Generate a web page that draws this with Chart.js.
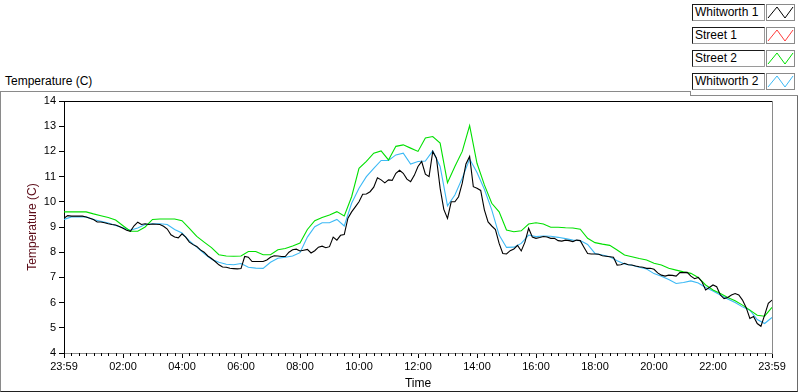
<!DOCTYPE html>
<html>
<head>
<meta charset="utf-8">
<title>Temperature (C)</title>
<script src="https://cdn.jsdelivr.net/npm/chart.js@4.4.1/dist/chart.umd.min.js"></script>
<style>
  html, body { margin: 0; padding: 0; background: #fff; }
  body { width: 800px; height: 392px; position: relative; overflow: hidden; font-family: 'Liberation Sans', Arial, sans-serif; }
  #chart { position: absolute; left: 0; top: 0; }
  .frame { position: absolute; left: 0; top: 91px; width: 796px; height: 299px;
           border-left: 1px solid #8a8a8a; border-top: 1px solid #8a8a8a;
           border-right: 1px solid #6a6a6a; border-bottom: 1px solid #202020; }
  .step { position: absolute; left: 690px; top: 91px; width: 1px; height: 5px; background: #8a8a8a; }
  .plot-title { position: absolute; left: 5px; top: 73px; font-size: 12px; line-height: 16px; color: #000; }
  .legend { position: absolute; left: 691px; top: 0; width: 107px; height: 96px; background: #fff;
            border-bottom: 1px solid #8a8a8a; box-sizing: border-box; }
  .legend .row { position: absolute; left: 1px; height: 17px; }
  .legend .name { position: absolute; left: 0; top: 0; width: 69px; height: 15px; background: #fff;
                  border: 1px solid; border-color: #1a1a1a #9a9a9a #9a9a9a #1a1a1a;
                  font-size: 12px; line-height: 15px; padding-left: 2px; white-space: nowrap; color: #000; }
  .legend .icon { position: absolute; left: 74px; top: 0; width: 27px; height: 15px; background: #fff;
                  border: 1px solid #8a8a8a; }
  .legend svg { display: block; }
</style>
</head>
<body>
<div class="frame"></div>
<div class="plot-title">Temperature (C)</div>
<canvas id="chart" width="800" height="392"></canvas>
<div class="legend" id="legend"></div>
<div class="step"></div>

<script>
// ===== DATA (23:59 -> 23:59, x in minutes) =====
// Whitworth 1 read every 7.5 min (it is noisy), the other sites every 15 min
const blackStep = 7.5;
const stepMinutes = 15;

const tickLabels = ['23:59', '02:00', '04:00', '06:00', '08:00', '10:00', '12:00',
  '14:00', '16:00', '18:00', '20:00', '22:00', '23:59'];

const seriesNames = ['Whitworth 1', 'Street 1', 'Street 2', 'Whitworth 2'];
const seriesColors = ['#000000', '#ff3c3c', '#00e000', '#3cb9f5'];

// one row per hour
const whitworth1 = [
  9.35, 9.45, 9.43, 9.43, 9.43, 9.43, 9.40, 9.35,
  9.30, 9.20, 9.20, 9.17, 9.13, 9.10, 9.08, 9.02,
  8.95, 8.87, 8.83, 9.05, 9.19, 9.10, 9.13, 9.10,
  9.12, 9.11, 9.10, 9.03, 8.92, 8.69, 8.60, 8.57,
  8.73, 8.60, 8.40, 8.30, 8.23, 8.09, 8.00, 7.85,
  7.75, 7.63, 7.50, 7.41, 7.40, 7.36, 7.35, 7.34,
  7.35, 7.83, 7.80, 7.63, 7.63, 7.63, 7.63, 7.69,
  7.80, 7.86, 7.85, 7.83, 7.83, 8.00, 8.10, 8.12,
  8.05, 8.08, 8.11, 7.97, 8.06, 8.20, 8.24, 8.18,
  8.22, 8.60, 8.48, 8.67, 8.70, 9.35, 9.60, 9.80,
  10.00, 10.30, 10.31, 10.40, 10.58, 10.95, 10.87, 10.75,
  10.87, 10.85, 11.13, 11.25, 11.13, 10.90, 10.80, 11.05,
  11.40, 11.60, 11.10, 11.00, 12.00, 11.73, 10.54, 9.70,
  9.34, 10.00, 10.00, 10.20, 10.74, 11.50, 11.80, 10.60,
  10.54, 10.45, 9.68, 9.20, 9.04, 8.90, 8.35, 7.95,
  7.93, 8.06, 8.13, 8.27, 8.05, 8.40, 8.95, 8.60,
  8.55, 8.58, 8.62, 8.60, 8.55, 8.55, 8.46, 8.44,
  8.48, 8.46, 8.42, 8.48, 8.46, 8.20, 7.95, 7.93,
  7.93, 7.92, 7.86, 7.84, 7.82, 7.80, 7.49, 7.50,
  7.56, 7.50, 7.49, 7.45, 7.42, 7.40, 7.36, 7.36,
  7.32, 7.18, 7.09, 7.05, 7.09, 7.08, 7.05, 7.19,
  7.19, 7.20, 7.05, 6.95, 7.00, 6.83, 6.50, 6.60,
  6.70, 6.63, 6.30, 6.16, 6.20, 6.30, 6.36, 6.30,
  6.10, 5.80, 5.37, 5.45, 5.17, 5.06, 5.50, 5.97,
  6.10
];

const street1 = [];

const street2 = [
  9.60, 9.60, 9.60, 9.60, 9.52, 9.45, 9.38, 9.28, 9.05, 8.83, 8.83, 9.00,
  9.30, 9.32, 9.32, 9.32, 9.25, 8.95, 8.63, 8.40, 8.18, 7.90, 7.85, 7.84,
  7.85, 8.03, 8.03, 7.90, 7.90, 8.10, 8.15, 8.25, 8.36, 8.90, 9.25, 9.38,
  9.48, 9.61, 9.44, 10.20, 11.33, 11.60, 11.93, 12.02, 11.66, 12.20, 12.26, 12.13,
  12.00, 12.53, 12.59, 12.33, 10.76, 11.40, 12.00, 13.02, 11.53, 10.67, 9.94, 9.60,
  8.88, 8.81, 8.85, 9.12, 9.17, 9.12, 8.99, 8.99, 8.97, 8.96, 8.91, 8.55,
  8.38, 8.32, 8.27, 8.09, 7.89, 7.82, 7.75, 7.69, 7.56, 7.49, 7.36, 7.29,
  7.22, 7.16, 7.00, 6.70, 6.50, 6.36, 6.20, 6.07, 5.90, 5.70, 5.50, 5.46,
  5.81
];

const whitworth2 = [
  9.30, 9.40, 9.40, 9.40, 9.30, 9.23, 9.16, 9.06, 8.97, 8.87, 8.96, 9.10,
  9.13, 9.13, 9.10, 8.90, 8.76, 8.45, 8.20, 7.95, 7.72, 7.60, 7.52, 7.50,
  7.55, 7.40, 7.37, 7.36, 7.60, 7.76, 7.80, 7.85, 7.98, 8.60, 9.01, 9.17,
  9.17, 9.30, 9.04, 9.94, 10.54, 11.00, 11.33, 11.64, 11.64, 11.86, 11.93, 11.50,
  11.60, 11.62, 12.02, 11.40, 9.84, 10.27, 10.94, 11.70, 11.16, 10.50, 9.68, 8.68,
  8.19, 8.20, 8.35, 8.68, 8.62, 8.64, 8.63, 8.59, 8.54, 8.48, 8.46, 8.31,
  7.95, 7.89, 7.82, 7.66, 7.53, 7.48, 7.40, 7.33, 7.15, 7.05, 6.92, 6.76,
  6.80, 6.86, 6.78, 6.60, 6.46, 6.30, 6.14, 6.00, 5.83, 5.70, 5.33, 5.17,
  5.41
];

// ===== HELPERS =====
const toPoints = (arr, step) => arr.map((v, i) => ({ x: i * step, y: v }));
const axisFont = { family: "'Liberation Sans', Arial, sans-serif", size: 11 };
const titleFont = { family: "'Liberation Sans', Arial, sans-serif", size: 12 };

// ===== LEGEND (LabVIEW style boxes) =====
function buildLegend() {
  const box = document.getElementById('legend');
  box.innerHTML = seriesNames.map((name, i) => `
    <div class="row" style="top:${4 + i * 23}px">
      <div class="name">${name}</div>
      <div class="icon">
        <svg width="27" height="15"><polyline points="1,13 10,2 18,13 26,2" fill="none" stroke="${seriesColors[i]}" stroke-width="1"/></svg>
      </div>
    </div>`).join('');
}

// ===== PLOT FRAME + MINOR TICKS =====
const frameLines = {
  id: 'frameLines',
  afterDraw(chart) {
    const { ctx, chartArea: a, scales: { x } } = chart;
    ctx.save();
    ctx.lineWidth = 1;

    // minor ticks every 15 min
    ctx.strokeStyle = '#000';
    ctx.beginPath();
    for (let m = 0; m <= 24 * 60; m += stepMinutes) {
      if (m % 120 === 0) continue;
      const px = Math.round(x.getPixelForValue(m)) + 0.5;
      ctx.moveTo(px, a.bottom);
      ctx.lineTo(px, a.bottom + 3);
    }
    ctx.stroke();

    // top (black) and right (gray) borders
    ctx.beginPath();
    ctx.moveTo(a.left, a.top + 0.5);
    ctx.lineTo(a.right, a.top + 0.5);
    ctx.stroke();
    ctx.strokeStyle = '#8a8a8a';
    ctx.beginPath();
    ctx.moveTo(a.right + 0.5, a.top);
    ctx.lineTo(a.right + 0.5, a.bottom);
    ctx.stroke();
    ctx.restore();
  }
};

// ===== CHART =====
function drawChart() {
  const data = [
    toPoints(whitworth1, blackStep),
    toPoints(street1, stepMinutes),
    toPoints(street2, stepMinutes),
    toPoints(whitworth2, stepMinutes)
  ];
  new Chart(document.getElementById('chart'), {
    type: 'line',
    data: {
      datasets: data.map((pts, i) => ({
        label: seriesNames[i],
        data: pts,
        borderColor: seriesColors[i],
        borderWidth: 1.1,
        pointRadius: 0,
        tension: 0,
        fill: false
      }))
    },
    options: {
      responsive: false,
      animation: false,
      layout: { padding: { left: 0, top: 101, right: 28, bottom: 0 } },
      plugins: { legend: { display: false }, tooltip: { enabled: false } },
      scales: {
        x: {
          type: 'linear',
          min: 0,
          max: 24 * 60,
          afterFit: s => { s.height = 39; },
          afterBuildTicks: s => { s.ticks = tickLabels.map((_, i) => ({ value: i * 120 })); },
          ticks: {
            autoSkip: false, maxRotation: 0, padding: 2, color: '#000', font: axisFont,
            callback: v => tickLabels[Math.round(v / 120)]
          },
          grid: { drawOnChartArea: false, drawTicks: true, tickLength: 5, color: '#000' },
          border: { display: true, color: '#8a8a8a' },
          title: { display: true, text: 'Time', color: '#000', font: titleFont, padding: { top: 0, bottom: 1 } }
        },
        y: {
          min: 4,
          max: 14,
          afterFit: s => { s.width = 64; },
          ticks: { stepSize: 1, padding: 3, color: '#000', font: axisFont },
          grid: { drawOnChartArea: false, drawTicks: true, tickLength: 5, color: '#000' },
          border: { display: true, color: '#000' },
          title: { display: true, text: 'Temperature (C)', color: '#5a0a16', font: titleFont, padding: { top: 25, bottom: 0 } }
        }
      }
    },
    plugins: [frameLines]
  });
}

document.addEventListener('DOMContentLoaded', () => {
  buildLegend();
  drawChart();
});
</script>
</body>
</html>
